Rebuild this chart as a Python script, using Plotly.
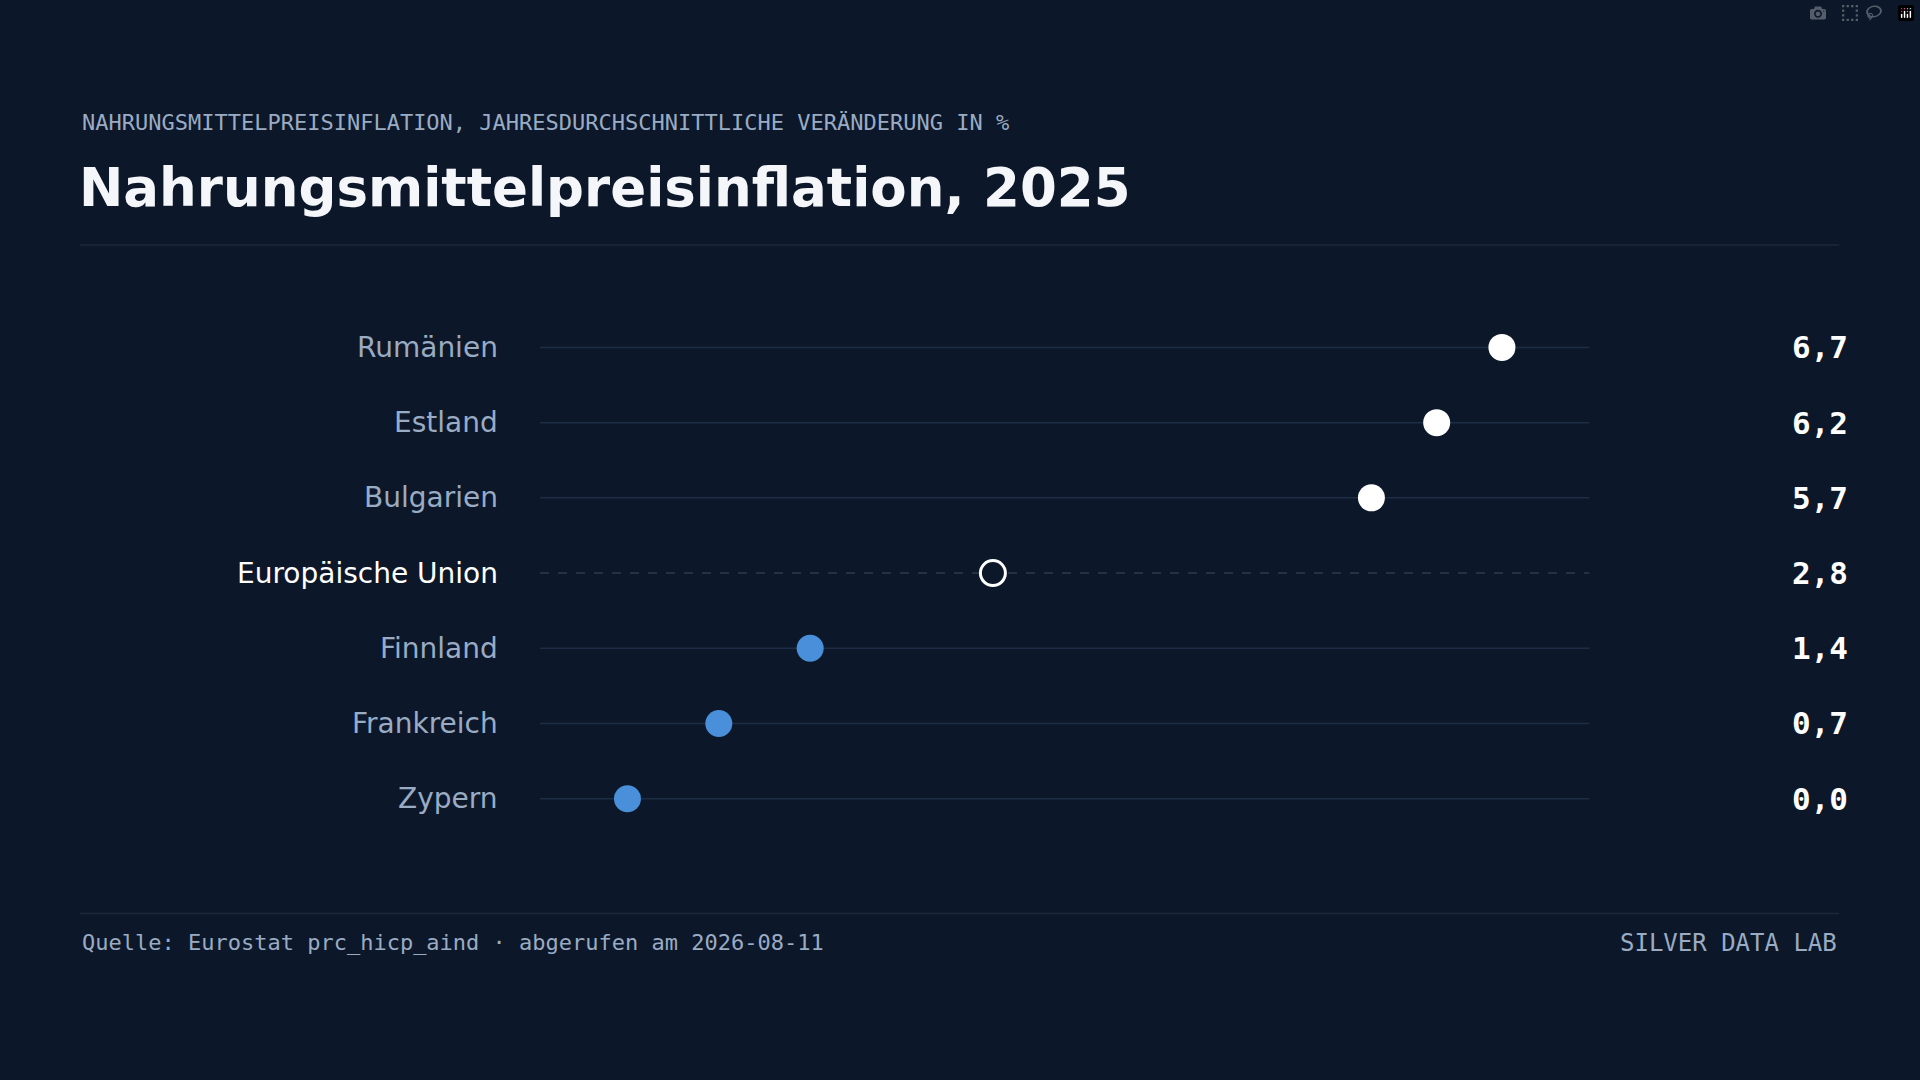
import plotly.graph_objects as go

countries = ["Rumänien", "Estland", "Bulgarien", "Europäische Union", "Finnland", "Frankreich", "Zypern"]
values = [6.7, 6.2, 5.7, 2.8, 1.4, 0.7, 0.0]
eu_name = "Europäische Union"
eu_value = 2.8

BG = "#0c1829"
GRID = "#1e2d45"
LABEL = "#9aabc4"
BLUE = "#4a8fd9"
W, H = 1920, 1080
S = 1920 / 1568

def px(x): return x * S / W
def py(y): return 1 - y * S / H

ys = list(range(len(countries)))
fig = go.Figure()

for i, (c, v) in enumerate(zip(countries, values)):
    dash = "dash" if c == eu_name else "solid"
    fig.add_shape(type="line", xref="paper", yref="y", x0=px(441), x1=px(1298), y0=i, y1=i,
                  line=dict(color=GRID if c != eu_name else "#2a3a52", width=1.5, dash=dash), layer="below")

colors = []
for c, v in zip(countries, values):
    if c == eu_name:
        colors.append(BG)
    elif v > eu_value:
        colors.append("#ffffff")
    else:
        colors.append(BLUE)
fig.add_trace(go.Scatter(
    x=values, y=ys, mode="markers",
    marker=dict(size=[25 if c == eu_name else 27 for c in countries], color=colors, opacity=1,
                line=dict(color=["#ffffff" if c == eu_name else colors[i] for i, c in enumerate(countries)],
                          width=[3 if c == eu_name else 0 for c in countries])),
    hoverinfo="skip", showlegend=False))

for i, (c, v) in enumerate(zip(countries, values)):
    fig.add_annotation(xref="paper", yref="y", x=px(408), y=i, text=c, showarrow=False, xanchor="right",
                       font=dict(family="DejaVu Sans", size=28, color="#ffffff" if c == eu_name else LABEL))
    fig.add_annotation(xref="paper", yref="y", x=px(1511), y=i, text=f"{v:.1f}".replace(".", ","), showarrow=False,
                       xanchor="right", font=dict(family="DejaVu Sans Mono", size=31, color="#ffffff", weight="bold"))

fig.add_annotation(xref="paper", yref="paper", x=px(65), y=py(100), text="NAHRUNGSMITTELPREISINFLATION, JAHRESDURCHSCHNITTLICHE VERÄNDERUNG IN %",
                   showarrow=False, xanchor="left", yanchor="middle",
                   font=dict(family="DejaVu Sans Mono", size=22, color=LABEL))
fig.add_annotation(xref="paper", yref="paper", x=px(63), y=py(153), text="<b>Nahrungsmittelpreisinflation, 2025</b>",
                   showarrow=False, xanchor="left", yanchor="middle",
                   font=dict(family="DejaVu Sans", size=53, color="#f4f6fa"))
fig.add_annotation(xref="paper", yref="paper", x=px(65), y=py(770), text="Quelle: Eurostat prc_hicp_aind · abgerufen am 2026-08-11",
                   showarrow=False, xanchor="left", yanchor="middle",
                   font=dict(family="DejaVu Sans Mono", size=22, color=LABEL))
fig.add_annotation(xref="paper", yref="paper", x=px(1502), y=py(770), text="SILVER DATA LAB",
                   showarrow=False, xanchor="right", yanchor="middle",
                   font=dict(family="DejaVu Sans Mono", size=24, color=LABEL))
for yy in (200, 746):
    fig.add_shape(type="line", xref="paper", yref="paper", x0=px(65), x1=px(1502), y0=py(yy), y1=py(yy),
                  line=dict(color="#1b283c", width=1.5))

fig.update_layout(
    width=W, height=H, margin=dict(l=0, r=0, t=0, b=0),
    paper_bgcolor=BG, plot_bgcolor=BG,
    xaxis=dict(range=[-0.67, 7.37], domain=[px(441), px(1298)], visible=False, fixedrange=True),
    yaxis=dict(range=[6.5, -0.5], domain=[py(683), py(253)], visible=False, fixedrange=True),
)
fig.write_html("out.html", post_script="document.body.style.margin='0';document.body.style.background='#0c1829';")
